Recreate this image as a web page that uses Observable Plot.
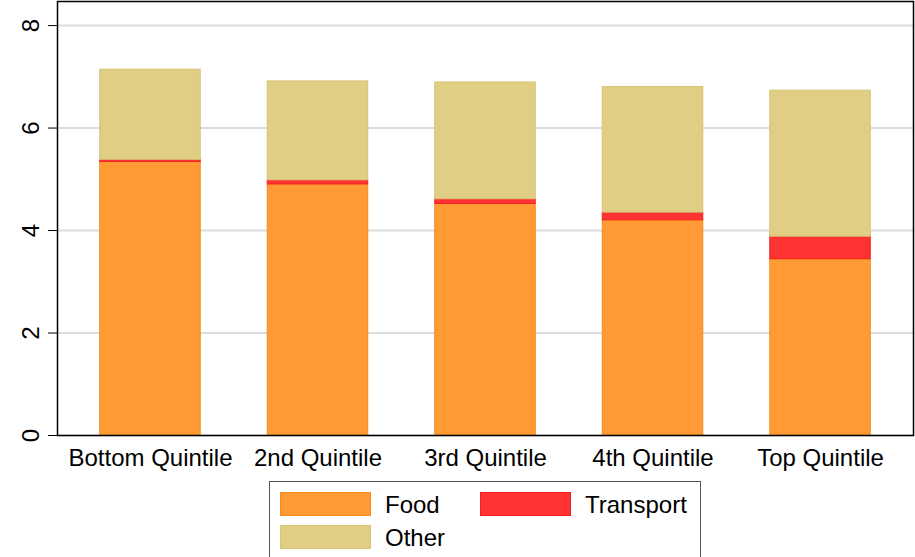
<!DOCTYPE html>
<html>
<head>
<meta charset="utf-8">
<script src="https://cdn.jsdelivr.net/npm/d3@7"></script>
<script src="https://cdn.jsdelivr.net/npm/@observablehq/plot@0.6"></script>
<style>
  html, body { margin: 0; padding: 0; background: #fff; }
  body { width: 915px; height: 557px; position: relative; overflow: hidden; font-family: "Liberation Sans", Arial, sans-serif; }
  #chart { position: absolute; left: 0; top: 0; }
  #chart svg text { font-size: 24px; }
  #legend { position: absolute; left: 269px; top: 481px; width: 432px; height: 90px; border: 1.5px solid #555; box-sizing: border-box; background: #fff; }
  .sw { position: absolute; width: 91px; height: 24px; box-sizing: border-box; }
  .lt { position: absolute; font-size: 24px; color: #000; line-height: 26px; }
</style>
</head>
<body>
<div id="chart"></div>
<div id="legend"></div>
<script>
const quintiles = ["Bottom Quintile", "2nd Quintile", "3rd Quintile", "4th Quintile", "Top Quintile"];
const food      = [5.34, 4.90, 4.52, 4.20, 3.44];
const transport = [0.04, 0.08, 0.09, 0.15, 0.44];
const other     = [1.76, 1.93, 2.28, 2.45, 2.85];
const seriesNames  = ["Food", "Transport", "Other"];
const seriesFill   = ["#FF9A35", "#FF3333", "#E0CE85"];
const seriesStroke = ["#F58A20", "#F02020", "#D8C474"];
const yTicks = [0, 2, 4, 6, 8];

const rows = [];
quintiles.forEach((q, i) => {
  rows.push({q, series: "Food", value: food[i]});
  rows.push({q, series: "Transport", value: transport[i]});
  rows.push({q, series: "Other", value: other[i]});
});

const chart = Plot.plot({
  width: 915,
  height: 480,
  marginLeft: 57,
  marginRight: 2,
  marginTop: 1,
  marginBottom: 45,
  style: {fontFamily: "Liberation Sans, Arial, sans-serif", fontSize: "24px", color: "#000", background: "#fff"},
  x: {domain: quintiles, paddingInner: 0.4, paddingOuter: 0.255, label: null, round: false},
  y: {domain: [0, 8.47], label: null},
  color: {domain: seriesNames, range: seriesFill},
  marks: [
    Plot.gridY(yTicks, {stroke: "#dcdcdc", strokeOpacity: 1, strokeWidth: 2}),
    Plot.barY(rows, Plot.stackY({
      x: "q", y: "value", order: seriesNames,
      z: "series",
      fill: "series",
      stroke: d => seriesStroke[seriesNames.indexOf(d.series)],
      strokeWidth: 1
    })),
    Plot.axisX({tickSize: 0, tickPadding: 13, fontSize: 24}),
    Plot.axisY({ticks: yTicks, tickSize: 9, tickPadding: 10, tickRotate: -90, fontSize: 24, tickFormat: d => String(d)}),
    Plot.frame({stroke: "#000", strokeWidth: 1.5})
  ]
});
document.getElementById("chart").appendChild(chart);

const legend = document.getElementById("legend");
const items = [
  {name: "Food", sx: 10, sy: 10, tx: 115},
  {name: "Transport", sx: 210, sy: 10, tx: 315},
  {name: "Other", sx: 10, sy: 43, tx: 115}
];
items.forEach(it => {
  const k = seriesNames.indexOf(it.name);
  const s = document.createElement("div");
  s.className = "sw";
  s.style.left = it.sx + "px"; s.style.top = it.sy + "px";
  s.style.background = seriesFill[k];
  s.style.border = "1px solid " + seriesStroke[k];
  legend.appendChild(s);
  const t = document.createElement("div");
  t.className = "lt";
  t.style.left = it.tx + "px"; t.style.top = (it.sy - 0) + "px";
  t.textContent = it.name;
  legend.appendChild(t);
});
</script>
</body>
</html>
